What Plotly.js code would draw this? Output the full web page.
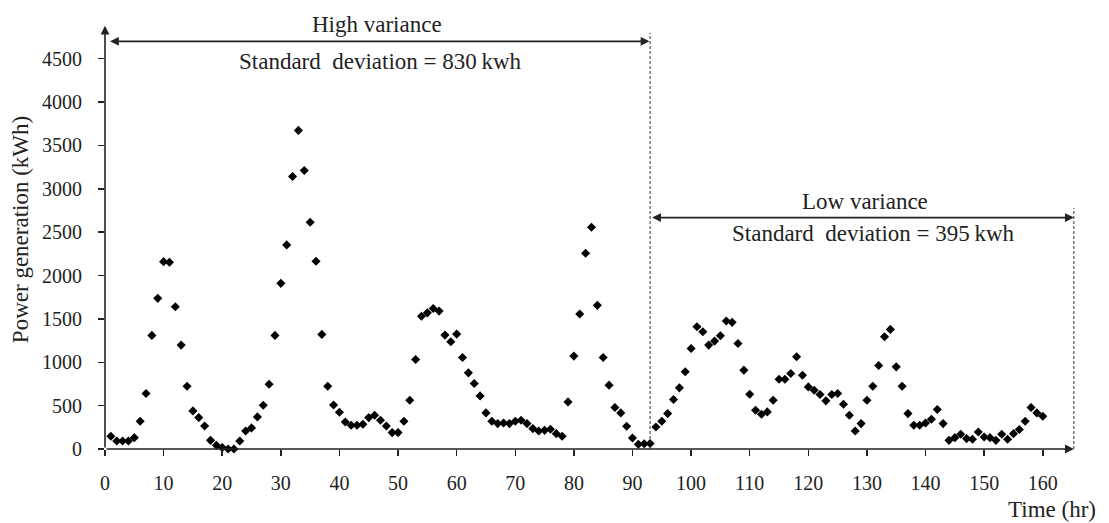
<!DOCTYPE html>
<html>
<head>
<meta charset="utf-8">
<script src="https://cdn.plot.ly/plotly-3.0.1.min.js"></script>
<style>html,body{margin:0;padding:0;background:#fff;}#chart{width:1109px;height:523px;}</style>
</head>
<body>
<div id="chart"></div>
<script>
// Hours (x) and power generation (kWh)
const hours = [1,2,3,4,5,6,7,8,9,10,11,12,13,14,15,16,17,18,19,20,
  21,22,23,24,25,26,27,28,29,30,31,32,33,34,35,36,37,38,39,40,
  41,42,43,44,45,46,47,48,49,50,51,52,53,54,55,56,57,58,59,60,
  61,62,63,64,65,66,67,68,69,70,71,72,73,74,75,76,77,78,79,80,
  81,82,83,84,85,86,87,88,89,90,91,92,93,94,95,96,97,98,99,100,
  101,102,103,104,105,106,107,108,109,110,111,112,113,114,115,116,117,118,119,120,
  121,122,123,124,125,126,127,128,129,130,131,132,133,134,135,136,137,138,139,140,
  141,142,143,144,145,146,147,148,149,150,151,152,153,154,155,156,157,158,159,160];
const power = [147,92,92,92,131,320,640,1310,1737,2160,
  2153,1640,1198,724,439,362,266,100,43,16,
  0,0,92,208,243,370,505,747,1310,1910,
  2353,3142,3673,3211,2615,2164,1321,724,508,424,
  312,274,274,285,362,389,331,266,189,189,
  320,562,1032,1530,1570,1620,1590,1313,1236,1325,
  1055,878,755,612,416,320,293,300,293,320,
  331,293,235,208,215,227,177,147,543,1071,
  1556,2257,2557,1656,1055,736,478,416,262,127,
  54,60,63,254,320,408,570,705,890,1159,
  1409,1352,1198,1244,1305,1475,1460,1217,909,632,
  447,401,428,562,805,805,871,1063,851,716,
  678,628,555,628,640,516,389,208,293,562,
  724,963,1294,1379,947,724,408,274,274,300,
  343,455,293,100,131,170,120,112,196,139,
  131,100,170,112,177,224,320,478,416,378];

const xTicks = [0,10,20,30,40,50,60,70,80,90,100,110,120,130,140,150,160];
const yTicks = [0,500,1000,1500,2000,2500,3000,3500,4000,4500];

// Annotation texts
const highLabel = "High variance";
const highStd = "Standard\u00a0 deviation = 830\u2009kwh";
const lowLabel = "Low variance";
const lowStd = "Standard\u00a0 deviation = 395\u2009kwh";
const xTitle = "Time (hr)";
const yTitle = "Power generation (kWh)";
const splitHour = 93;
const endHour = 165.3;
const highArrowY = 4700;
const lowArrowY = 2668;

const serif = "Liberation Serif, Times New Roman, serif";
const ink = "#222";

const trace = {
  x: hours, y: power, type: "scatter", mode: "markers",
  marker: {symbol: "diamond", size: 7, color: "#000"},
  cliponaxis: false, hoverinfo: "skip"
};

function arrow(x, y, ax, ay, both) {
  return {x: x, y: y, ax: ax, ay: ay, xref: "x", yref: "y", axref: "x", ayref: "y",
    text: "", showarrow: true, arrowhead: 2, arrowsize: 1.1, arrowwidth: 1.6,
    arrowcolor: ink, arrowside: both ? "end+start" : "end", startarrowhead: 2,
    startarrowsize: 1.1, standoff: 0, startstandoff: 0};
}
function label(t, x, py) {
  // py: pixel row in the 523px-high figure (plot area spans rows 24..449)
  return {x: x, y: (449 - py) / 425, xref: "x", yref: "paper", text: t, showarrow: false,
    font: {family: serif, size: 23, color: ink}, xanchor: "center", yanchor: "middle"};
}

const layout = {
  width: 1109, height: 523,
  margin: {l: 105, r: 34, t: 24, b: 74},
  paper_bgcolor: "#fff", plot_bgcolor: "#fff",
  showlegend: false,
  xaxis: {range: [0, 165.5], tickvals: xTicks, ticktext: xTicks.map(String),
    ticks: "outside", ticklen: 6, tickwidth: 1.5, tickcolor: ink,
    showgrid: false, zeroline: false, showline: false,
    tickfont: {family: serif, size: 20, color: ink}, ticklabelstandoff: 10},
  yaxis: {range: [0, 4900], tickvals: yTicks, ticktext: yTicks.map(String),
    ticks: "outside", ticklen: 6, tickwidth: 1.5, tickcolor: ink,
    showgrid: false, zeroline: false, showline: false,
    tickfont: {family: serif, size: 20, color: ink}, ticklabelstandoff: 12},
  shapes: [
    {type: "line", xref: "x", yref: "y", x0: splitHour, x1: splitHour, y0: 0, y1: 4800,
      line: {color: "#333", width: 1, dash: "3px,2px"}},
    {type: "line", xref: "x", yref: "y", x0: endHour, x1: endHour, y0: 0, y1: 2780,
      line: {color: "#333", width: 1, dash: "3px,2px"}}
  ],
  annotations: [
    arrow(endHour, 0, 0, 0, false),
    arrow(0, 4880, 0, 0, false),
    arrow(splitHour - 0.1, highArrowY, 0.6, highArrowY, true),
    arrow(endHour, lowArrowY, splitHour + 0.1, lowArrowY, true),
    label(highLabel, 46.4, 24),
    label(highStd, 47, 62),
    label(lowLabel, 129.7, 201),
    label(lowStd, 131.2, 233),
    label(xTitle, 161.6, 509),
    {xref: "paper", yref: "paper", x: -85/970, y: 0.515, text: yTitle, showarrow: false,
      textangle: -90, font: {family: serif, size: 23, color: ink}, xanchor: "center", yanchor: "middle"}
  ]
};

Plotly.newPlot("chart", [trace], layout, {displayModeBar: false, staticPlot: true});
</script>
</body>
</html>
